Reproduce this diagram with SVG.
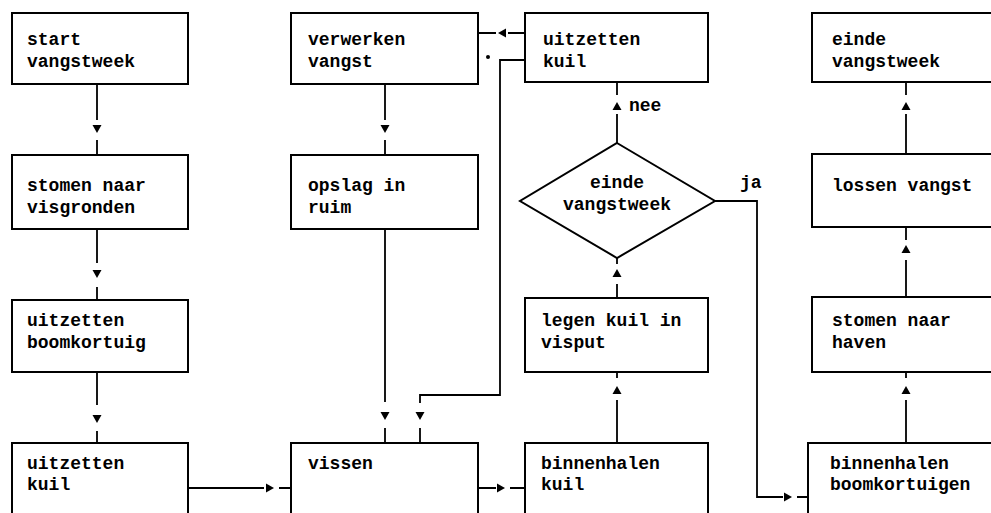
<svg xmlns="http://www.w3.org/2000/svg" width="991" height="513" viewBox="0 0 991 513">
<style>
.box{fill:#fff;stroke:#000;stroke-width:2}
.t{font-family:"Liberation Mono","DejaVu Sans Mono",monospace;font-weight:bold;font-size:18px;fill:#000}
.ln{fill:none;stroke:#000;stroke-width:1.8}
.ah{fill:#000}
</style>
<rect width="991" height="513" fill="#fff"/>
<g id="n-start"><rect class="box" x="12" y="13" width="176" height="71"/><text class="t" x="27" y="45">start</text><text class="t" x="27" y="67">vangstweek</text></g>
<g id="n-stomen-visgronden"><rect class="box" x="12" y="155" width="176" height="74"/><text class="t" x="27" y="191">stomen naar</text><text class="t" x="27" y="213">visgronden</text></g>
<g id="n-uitzetten-boomkortuig"><rect class="box" x="12" y="300" width="176" height="72"/><text class="t" x="27" y="326">uitzetten</text><text class="t" x="27" y="348">boomkortuig</text></g>
<g id="n-uitzetten-kuil-1"><rect class="box" x="12" y="443" width="176" height="80"/><text class="t" x="27" y="469">uitzetten</text><text class="t" x="27" y="490">kuil</text></g>
<g id="n-verwerken"><rect class="box" x="291" y="13" width="187" height="71"/><text class="t" x="308" y="45">verwerken</text><text class="t" x="308" y="67">vangst</text></g>
<g id="n-opslag"><rect class="box" x="291" y="155" width="187" height="74"/><text class="t" x="308" y="191">opslag in</text><text class="t" x="308" y="213">ruim</text></g>
<g id="n-vissen"><rect class="box" x="291" y="443" width="187" height="80"/><text class="t" x="308" y="469">vissen</text></g>
<g id="n-uitzetten-kuil-2"><rect class="box" x="525" y="13" width="183" height="69"/><text class="t" x="543" y="45">uitzetten</text><text class="t" x="543" y="67">kuil</text></g>
<g id="n-einde-beslissing"><polygon class="box" points="617,143 715,201 617,258 520,201"/><text class="t" x="617" y="188" text-anchor="middle">einde</text><text class="t" x="617" y="210" text-anchor="middle">vangstweek</text></g>
<g id="n-legen"><rect class="box" x="525" y="298" width="183" height="74"/><text class="t" x="541" y="326">legen kuil in</text><text class="t" x="541" y="348">visput</text></g>
<g id="n-binnenhalen-kuil"><rect class="box" x="525" y="443" width="183" height="80"/><text class="t" x="541" y="469">binnenhalen</text><text class="t" x="541" y="490">kuil</text></g>
<g id="n-einde"><rect class="box" x="812" y="13" width="200" height="69"/><text class="t" x="832" y="45">einde</text><text class="t" x="832" y="67">vangstweek</text></g>
<g id="n-lossen"><rect class="box" x="812" y="154" width="200" height="73"/><text class="t" x="832" y="191">lossen vangst</text></g>
<g id="n-stomen-haven"><rect class="box" x="812" y="297" width="200" height="75"/><text class="t" x="832" y="326">stomen naar</text><text class="t" x="832" y="348">haven</text></g>
<g id="n-binnenhalen-boom"><rect class="box" x="808" y="443" width="204" height="80"/><text class="t" x="830" y="469">binnenhalen</text><text class="t" x="830" y="490">boomkortuigen</text></g>
<g id="connectors">
<path class="ln" d="M97,84V120M97,140V155"/><polygon class="ah" points="92.5,125 101.5,125 97,133"/>
<path class="ln" d="M97,229V263M97,287V300"/><polygon class="ah" points="92.5,270 101.5,270 97,278"/>
<path class="ln" d="M97,372V405M97,431V443"/><polygon class="ah" points="92.5,415 101.5,415 97,423"/>
<path class="ln" d="M385,84V120M385,140V155"/><polygon class="ah" points="380.5,125 389.5,125 385,133"/>
<path class="ln" d="M385,229V402M385,428V443"/><polygon class="ah" points="380.5,412 389.5,412 385,420"/>
<path class="ln" d="M525,60H500V395H420V403M420,428V443"/><polygon class="ah" points="415.5,412 424.5,412 420,420"/>
<path class="ln" d="M525,33H508M496,33H478"/><polygon class="ah" points="498,33 506,28.5 506,37.5"/>
<circle cx="488" cy="57" r="2" fill="#000"/>
<path class="ln" d="M617,82V95M617,114V143"/><polygon class="ah" points="617,102 612.5,110 621.5,110"/>
<text class="t" x="629" y="111" font-size="17">nee</text>
<path class="ln" d="M617,258V264M617,284V298"/><polygon class="ah" points="617,269 612.5,277 621.5,277"/>
<path class="ln" d="M617,372V378M617,400V443"/><polygon class="ah" points="617,386 612.5,394 621.5,394"/>
<path class="ln" d="M715,201H757V497H783M797,497H808"/><polygon class="ah" points="792,497 784,492.5 784,501.5"/>
<text class="t" x="740" y="188" font-size="17">ja</text>
<path class="ln" d="M906,82V95M906,114V154"/><polygon class="ah" points="906,102 901.5,110 910.5,110"/>
<path class="ln" d="M906,227V240M906,260V297"/><polygon class="ah" points="906,245 901.5,253 910.5,253"/>
<path class="ln" d="M906,372V378M906,400V443"/><polygon class="ah" points="906,386 901.5,394 910.5,394"/>
<path class="ln" d="M188,488H264M279,488H291"/><polygon class="ah" points="274,488 266,483.5 266,492.5"/>
<path class="ln" d="M478,488H496M510,488H525"/><polygon class="ah" points="505,488 497,483.5 497,492.5"/>
</g>
</svg>
